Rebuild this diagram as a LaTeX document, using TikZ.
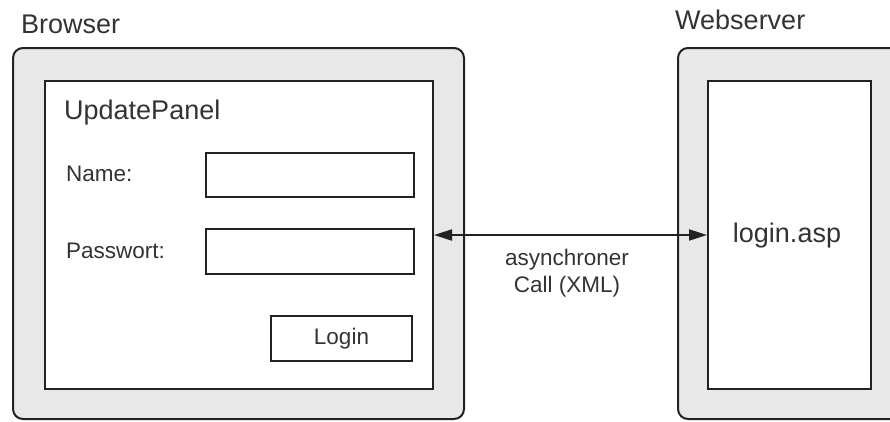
\documentclass[tikz,border=0pt]{standalone}
\usepackage{fontspec}
\setmainfont{Liberation Sans}
\usetikzlibrary{arrows.meta}
\definecolor{boxgray}{HTML}{E8E8E8}
\definecolor{linec}{HTML}{222222}
\definecolor{textc}{HTML}{333333}
\tikzset{
  outerbox/.style={draw=linec, line width=2pt, fill=boxgray, rounded corners=10pt, anchor=north west, inner sep=0pt},
  innerbox/.style={draw=linec, line width=2pt, fill=white, anchor=north west, inner sep=0pt},
  bigtxt/.style={text=textc, font=\fontsize{27}{32}\selectfont, inner sep=0pt},
  smalltxt/.style={text=textc, font=\fontsize{22.5}{27}\selectfont, inner sep=0pt},
  conn/.style={draw=linec, line width=2pt, {Triangle[length=18pt,width=11pt]}-{Triangle[length=18pt,width=11pt]}}
}
\begin{document}
\begin{tikzpicture}[x=1pt,y=-1pt]
\useasboundingbox (0,0) rectangle (890,421);
% Browser
\node[outerbox, minimum width=451pt, minimum height=371pt] (browser) at (12,47) {};
\node[bigtxt, anchor=base west] (browserlbl) at (21,33) {Browser};
\node[innerbox, minimum width=388pt, minimum height=308pt] (panel) at (44,80) {};
\node[bigtxt, anchor=base west] (panellbl) at (64,119) {UpdatePanel};
\node[innerbox, minimum width=208pt, minimum height=44pt] (namefield) at (205,152) {};
\node[innerbox, minimum width=208pt, minimum height=45pt] (pwfield) at (205,228) {};
\node[innerbox, minimum width=141pt, minimum height=45pt] (loginbtn) at (270,315) {};
\node[smalltxt, anchor=west] (namelbl) at (66,174) {Name:};
\node[smalltxt, anchor=west] (pwlbl) at (66,251) {Passwort:};
\node[smalltxt] (loginlbl) at (loginbtn.center) {Login};
% Webserver
\node[outerbox, minimum width=240pt, minimum height=371pt] (server) at (677,47) {};
\node[bigtxt, anchor=base west] (serverlbl) at (675,29) {Webserver};
\node[innerbox, minimum width=163pt, minimum height=308pt] (srv) at (707,80) {};
\node[bigtxt, anchor=base] (srvlbl) at (787,242) {login.asp};
% Connector
\draw[conn] (panel.east) -- (srv.west);
\node[smalltxt, align=center] (calllbl) at (567,273) {asynchroner\\Call (XML)};
\end{tikzpicture}
\end{document}
